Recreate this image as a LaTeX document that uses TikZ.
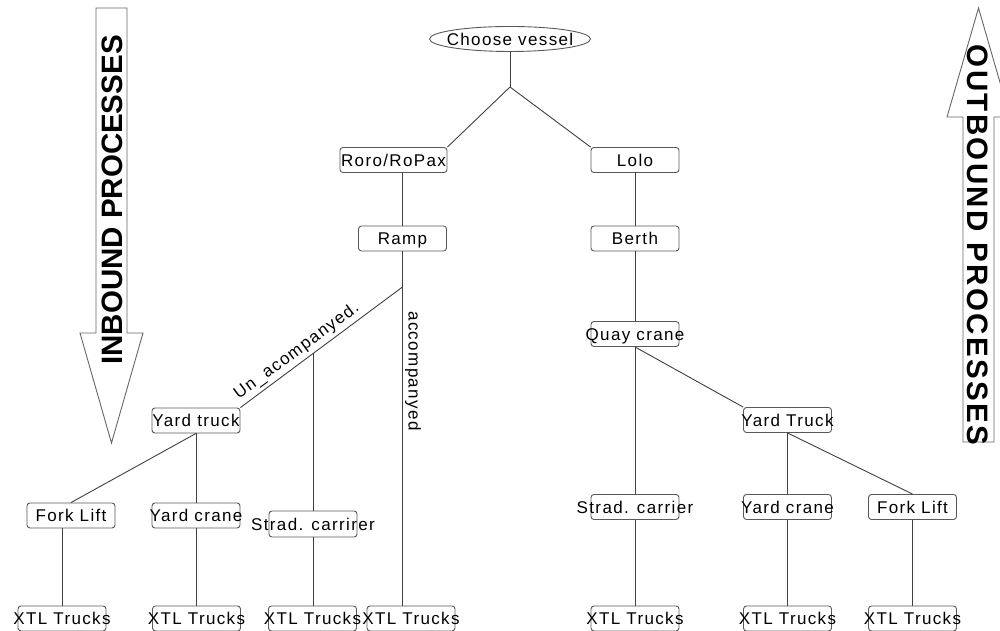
\documentclass[tikz,border=0pt]{standalone}
\usepackage{fontspec}
\setmainfont{Liberation Sans}
\newfontfamily\boxfont[LetterSpace=8]{Liberation Sans}
\usepackage{tikz}
\usetikzlibrary{shapes.geometric}

\newcommand{\ovl}[1]{\makebox[0pt]{#1}}

\begin{document}
\begin{tikzpicture}[x=1pt,y=1pt,
  proc/.style={draw=black!65, line width=0.9pt, fill=white, rounded corners=3pt, inner sep=0pt,
    minimum width=88pt, minimum height=25pt, text height=12.2pt, text depth=0pt,
    font=\boxfont\fontsize{17}{20}\selectfont},
  tag/.style={inner sep=0pt, font=\boxfont\fontsize{17}{20}\selectfont},
  link/.style={draw=black!75, line width=0.9pt},
  bigarrow/.style={draw=black!60, fill=white, line width=0.9pt}]

\useasboundingbox (0,0) rectangle (1000,631);

% direction arrows
\draw[bigarrow] (96,623) -- (127,623) -- (127,298) -- (143,298) -- (111.5,188)
  -- (80,298) -- (96,298) -- cycle;
\node[rotate=90, inner sep=0pt, font=\bfseries\fontsize{29.5}{32}\selectfont]
  (inbound) at (112,431) {INBOUND PROCESSES};

\draw[bigarrow] (978.5,623) -- (1010,514) -- (994,514) -- (994,189) -- (963,189)
  -- (963,514) -- (947,514) -- cycle;
\node[rotate=-90, inner sep=0pt, font=\boxfont\bfseries\fontsize{29.5}{32}\selectfont]
  (outbound) at (978,386) {OUTBOUND PROCESSES};

% vessel choice
\node[proc, ellipse, sharp corners, minimum width=161pt] (vessel) at (510,592) {\ovl{Choose vessel}};
\coordinate (fork) at (510,544);
\node[proc, minimum width=107pt] (roro) at (393.5,471) {\ovl{Roro/RoPax}};
\node[proc] (lolo) at (635,471) {\ovl{Lolo}};

% roro side
\node[proc] (ramp) at (402.5,392.5) {\ovl{Ramp}};
\coordinate (split) at (402.5,344);
\node[proc] (ytl) at (196,210.5) {\ovl{Yard truck}};
\node[proc] (fll) at (71,115.5) {\ovl{Fork Lift}};
\node[proc] (ycl) at (196,115.5) {\ovl{Yard crane}};
\node[proc, minimum height=26pt] (scl) at (313,107) {\ovl{Strad. carrirer}};

% lolo side
\node[proc] (berth) at (635,392.5) {\ovl{Berth}};
\node[proc] (quay) at (635,297) {\ovl{Quay crane}};
\node[proc] (ytr) at (787.5,211) {\ovl{Yard Truck}};
\node[proc] (scr) at (635,124) {\ovl{Strad. carrier}};
\node[proc] (ycr) at (787.5,124) {\ovl{Yard crane}};
\node[proc] (flr) at (912.5,124) {\ovl{Fork Lift}};

% trucks
\node[proc] (xtl1) at (62,12.5) {\ovl{XTL Trucks}};
\node[proc] (xtl2) at (196.5,12.5) {\ovl{XTL Trucks}};
\node[proc] (xtl3) at (312.5,12.5) {\ovl{XTL Trucks}};
\node[proc] (xtl4) at (411,12.5) {\ovl{XTL Trucks}};
\node[proc] (xtl5) at (635,12.5) {\ovl{XTL Trucks}};
\node[proc] (xtl6) at (787.5,12.5) {\ovl{XTL Trucks}};
\node[proc] (xtl7) at (912.5,12.5) {\ovl{XTL Trucks}};

% connectors
\draw[link] (vessel.south) -- (fork);
\draw[link] (fork) -- (roro.north east);
\draw[link] (fork) -- (lolo.north west);

\draw[link] (ramp.north) -- (ramp.north |- roro.south);
\draw[link] (ramp.south) -- (ramp.south |- xtl4.north);
\draw[link] (ytl.north east) -- node[tag, sloped, above=3pt, pos=0.39] (unacc) {Un\_acompanyed.} (split);
\path (ytl.north east) -- (split) coordinate[pos=0.451] (branch);
\draw[link] (branch) -- (branch |- scl.north);
\draw[link] (scl.south) -- (scl.south |- xtl3.north);
\draw[link] (ytl.south) -- (ycl.north);
\draw[link] (ytl.south) -- (fll.north);
\draw[link] (xtl1.north) -- (xtl1.north |- fll.south);
\draw[link] (ycl.south) -- (ycl.south |- xtl2.north);
\node[tag, rotate=-90] (acc) at (413,260) {accompanyed};

\draw[link] (lolo.south) -- (berth.north);
\draw[link] (berth.south) -- (quay.north);
\draw[link] (quay.south) -- (scr.north);
\draw[link] (quay.south) -- (ytr.north west);
\draw[link] (ytr.south) -- (ycr.north);
\draw[link] (ytr.south) -- (flr.north);
\draw[link] (scr.south) -- (xtl5.north);
\draw[link] (ycr.south) -- (xtl6.north);
\draw[link] (flr.south) -- (xtl7.north);

\end{tikzpicture}
\end{document}
